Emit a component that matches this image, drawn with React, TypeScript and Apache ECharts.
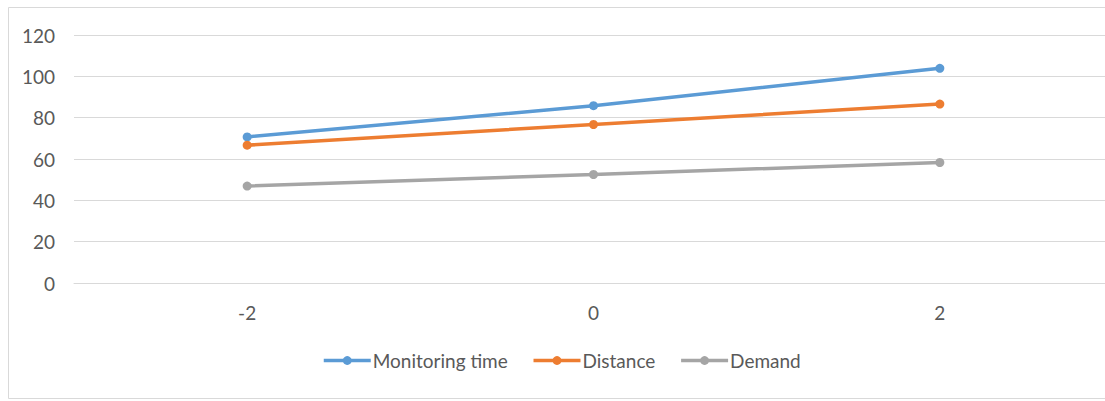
import React, { useEffect, useRef } from "react";
import * as echarts from "echarts";

const categories = ["-2", "0", "2"];
const monitoringTime = [70.7, 85.8, 103.9];
const distance = [66.7, 76.7, 86.6];
const demand = [46.9, 52.5, 58.3];
const yTicks = { min: 0, max: 120, interval: 20 };

const FONT = "Lato";

export default function App() {
  const ref = useRef<HTMLDivElement>(null);
  useEffect(() => {
    if (!ref.current) return;
    const chart = echarts.init(ref.current, undefined, { renderer: "svg" });
    const mk = (name: string, data: number[], color: string) => ({
      name,
      type: "line",
      data,
      symbol: "circle",
      symbolSize: 9,
      lineStyle: { color, width: 3.5 },
      itemStyle: { color },
      emphasis: { disabled: true },
    });
    chart.setOption({
      animation: false,
      textStyle: { fontFamily: FONT },
      graphic: [
        {
          type: "rect",
          shape: { x: 8.5, y: 7.5, width: 1110, height: 391 },
          style: { fill: "none", stroke: "#d9d9d9", lineWidth: 1 },
          silent: true,
        },
      ],
      grid: { left: 74, top: 35, width: 1039, height: 248, containLabel: false },
      xAxis: {
        type: "category",
        data: categories,
        boundaryGap: true,
        axisLine: { show: true, lineStyle: { color: "#d9d9d9", width: 1 } },
        axisTick: { show: false },
        axisLabel: { color: "#595959", fontSize: 19, margin: 20, fontFamily: FONT },
        splitLine: { show: false },
      },
      yAxis: {
        type: "value",
        min: yTicks.min,
        max: yTicks.max,
        interval: yTicks.interval,
        axisLine: { show: false },
        axisTick: { show: false },
        axisLabel: { color: "#595959", fontSize: 19, margin: 19, fontFamily: FONT },
        splitLine: { lineStyle: { color: "#d9d9d9", width: 1 } },
      },
      legend: {
        left: 322,
        top: 351,
        padding: 0,
        itemWidth: 47,
        itemHeight: 11,
        itemGap: 24,
        lineStyle: { width: 3.5 },
        textStyle: { color: "#595959", fontSize: 19, fontFamily: FONT, padding: [0, 0, 0, -3] },
        data: ["Monitoring time", "Distance", "Demand"],
      },
      series: [
        mk("Monitoring time", monitoringTime, "#5B9BD5"),
        mk("Distance", distance, "#ED7D31"),
        mk("Demand", demand, "#A5A5A5"),
      ],
    });
    return () => chart.dispose();
  }, []);
  return (
    <div style={{ position: "fixed", left: 0, top: 0, width: 1105, height: 401, overflow: "hidden", background: "#fff" }}>
      <div ref={ref} style={{ position: "absolute", left: 0, top: 0, width: 1125, height: 401 }} />
    </div>
  );
}
